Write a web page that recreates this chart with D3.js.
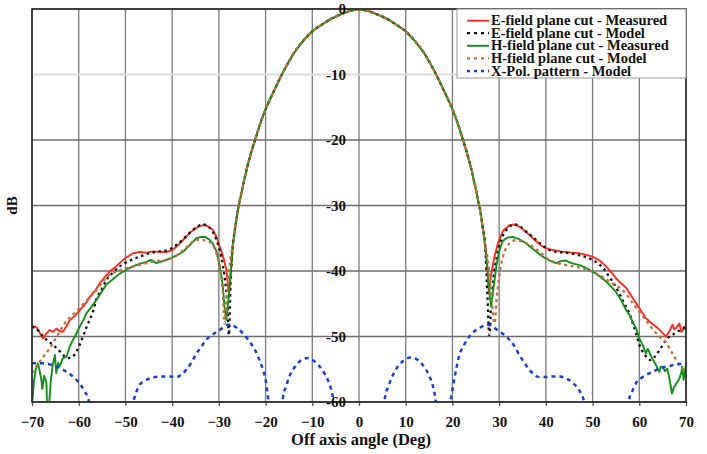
<!DOCTYPE html>
<html>
<head>
<meta charset="utf-8">
<script src="https://cdn.jsdelivr.net/npm/d3@7/dist/d3.min.js"></script>
<style>
  html, body { margin: 0; padding: 0; background: #fff; }
  svg { display: block; }
  text { font-family: "Liberation Serif", "Times New Roman", serif; font-weight: bold; fill: #111; }
</style>
</head>
<body>
<svg id="chart" width="707" height="454"></svg>
<script>
// ---------------- DATA ----------------
const xTicks = [-70, -60, -50, -40, -30, -20, -10, 0, 10, 20, 30, 40, 50, 60, 70];
const yTicks = [0, -10, -20, -30, -40, -50, -60];
const xTitle = "Off axis angle (Deg)";
const yTitle = "dB";
const seriesNames = [
  "E-field plane cut - Measured",
  "E-field plane cut - Model",
  "H-field plane cut - Measured",
  "H-field plane cut - Model",
  "X-Pol. pattern - Model"
];

// main beam shared by the co-pol curves [angle, dB]
const mainBeam = [
  [-27, -36], [-26.5, -33.4], [-26, -31], [-25, -27.5], [-24, -24.3], [-23, -21.7], [-22, -19.4],
  [-21, -17.2], [-20, -15.3], [-19, -13.7], [-18, -12.2], [-17, -10.7], [-16, -9.3], [-15, -8],
  [-14, -6.8], [-12, -4.9], [-10, -3.4], [-8, -2.4], [-6, -1.5], [-4, -0.85], [-2, -0.3], [0, 0],
  [2, -0.3], [4, -0.85], [6, -1.5], [8, -2.4], [10, -3.4], [12, -4.9], [14, -6.8], [15, -8],
  [16, -9.3], [17, -10.7], [18, -12.2], [19, -13.7], [20, -15.3], [21, -17.2], [22, -19.4],
  [23, -21.7], [24, -24.3], [25, -27.5], [26, -31], [26.5, -33.4], [27, -36]
];

const eMeasLeft = [
  [-70, -48.4], [-69, -48.6], [-68.3, -49.5], [-67.6, -50.3], [-67, -49.6], [-66.2, -49], [-65.5, -49.3],
  [-64.8, -48.8], [-64, -49.2], [-63.4, -49.3], [-62.6, -48.4], [-61.9, -47.5], [-61, -47], [-59.8, -46],
  [-58.8, -45.2], [-58, -44.4], [-57.6, -43.9], [-56.5, -43], [-55.5, -41.9], [-54.5, -41], [-53.4, -40.1],
  [-52, -39.3], [-50.5, -38.3], [-49.5, -37.8], [-48.4, -37.3], [-47, -37.1], [-45.5, -37.2], [-44, -37],
  [-42.5, -37.1], [-41.2, -37.1], [-40, -36.8], [-39.1, -36.3], [-38, -35.5], [-37, -34.8], [-36.3, -34.2],
  [-35, -33.5], [-34, -33.1], [-33.4, -33], [-32.5, -33.1], [-31.3, -33.7], [-30.5, -34.8], [-29.8, -36.3],
  [-29, -38], [-28.4, -39.8], [-28, -42.5], [-27.8, -43.4], [-27.4, -40]
];
const eMeasRight = [
  [27.5, -40], [27.8, -43.4], [28.3, -40.5], [29, -37.8], [29.8, -35.6], [30.8, -33.9], [32.2, -33],
  [33.3, -32.9], [34.5, -33.3], [35.5, -33.9], [36.5, -34.5], [38, -35.5], [39, -36.1], [40, -36.5],
  [41.5, -36.8], [43, -37], [44.3, -37.1], [45.5, -37.2], [47.2, -37.3], [48.5, -37.5], [50, -37.8],
  [51.5, -38.4], [52.9, -39.3], [54, -40.2], [55, -41.1], [56, -41.8], [57.2, -42.6], [58.3, -43.8],
  [59.3, -44.9], [60.3, -46], [61.4, -47.2], [62.5, -47.9], [63.6, -48.5], [64.5, -49.1], [65.7, -50],
  [66.4, -49.3], [67.1, -48.2], [67.5, -48.9], [67.9, -48.7], [68.3, -48.3], [68.6, -48], [69, -49.3],
  [69.3, -49.1], [69.6, -48.5], [70, -48.9]
];

const eModelLeft = [
  [-70, -48.5], [-68.5, -49.2], [-67.6, -50], [-66, -51], [-64.4, -52], [-63.2, -52.9], [-62.3, -53.3],
  [-61.2, -53], [-60.5, -52.3], [-59.8, -51.3], [-59, -49.8], [-58, -48], [-57, -46.3], [-56.2, -44.3],
  [-55, -42.7], [-54.1, -41.4], [-52.6, -40.2], [-51.2, -39.3], [-49, -38.4], [-46.9, -37.8], [-44.8, -37.3],
  [-42.7, -37], [-41, -36.8], [-39.8, -36.4], [-38.5, -35.7], [-37, -34.7], [-35.5, -33.7], [-34.3, -33.1],
  [-33.4, -32.9], [-32.3, -33.2], [-31.3, -34], [-30.4, -35.5], [-29.5, -37.8], [-28.8, -40.8],
  [-28.3, -44], [-28.1, -46], [-27.85, -49.8], [-27.5, -42]
];
const eModelRight = [
  [27.5, -44], [27.9, -49.8], [28.3, -45], [28.8, -41], [29.5, -37.8], [30.4, -35.3], [31.5, -33.8],
  [32.5, -33.1], [33.4, -32.9], [34.5, -33.2], [35.5, -33.8], [37.2, -34.8], [39, -35.9], [40.7, -36.8],
  [42.5, -37.1], [44.3, -37.2], [46, -37.4], [47.2, -37.6], [49, -38], [50.7, -38.6], [52.3, -39.6],
  [53.6, -40.9], [54.7, -42.1], [55.7, -43.4], [56.8, -45], [57.9, -46.5], [58.6, -48], [59.3, -49.5],
  [60, -51.2], [61.4, -53], [62.5, -53.6], [63.4, -53], [64.3, -52.1], [65.2, -51.1], [66, -50.3],
  [67, -49.8], [67.9, -49.4], [69, -48.9], [70, -48.6]
];

const hMeasLeft = [
  [-70, -60.5], [-69.6, -57], [-69.2, -55], [-68.7, -54.1], [-68.3, -55.5], [-68, -56.6], [-67.8, -58],
  [-67.4, -56], [-66.9, -57.1], [-66.8, -60.5], [-66.4, -61], [-66, -57], [-65.6, -54.5], [-65.1, -52.8],
  [-64.8, -55.6], [-64.4, -54], [-64.1, -54.6], [-63.4, -53.3], [-62.6, -53.1], [-61.9, -51.5],
  [-61.3, -50.6], [-60.8, -50], [-59.8, -48.5], [-59, -47.5], [-58.4, -46.5], [-57.2, -45.4],
  [-56.2, -44.4], [-55, -43.1], [-54.1, -42.1], [-52.6, -41.2], [-51.2, -40.4], [-49.8, -39.8],
  [-48.4, -39.3], [-47, -38.9], [-45.5, -38.6], [-44.5, -38.3], [-43.4, -38.8], [-42, -38.5],
  [-40.5, -38.1], [-39, -37.6], [-37.7, -37.1], [-36.2, -36], [-34.8, -35], [-33.8, -34.8], [-33, -34.8],
  [-32, -35.2], [-31.3, -35.8], [-30.5, -37], [-29.8, -39.3], [-29.2, -42], [-28.8, -45.4],
  [-28.4, -47.5], [-27.9, -44], [-27.4, -39.5]
];
const hMeasRight = [
  [27.5, -39.5], [28, -44], [28.3, -45.4], [28.8, -42.5], [29.5, -38.8], [30.2, -36.5], [30.8, -35.4],
  [31.8, -34.9], [32.9, -34.8], [34.2, -35.1], [35.8, -35.8], [37.5, -36.8], [39.3, -37.8], [40.8, -38.4],
  [42.2, -38.8], [43.2, -38.5], [44.3, -38.4], [45.5, -38.8], [47.2, -39.1], [48.5, -39.5], [50, -40.1],
  [51.5, -40.8], [52.9, -41.6], [54, -42.4], [55, -43.2], [56, -44.3], [57.2, -46], [58, -46.8],
  [58.6, -47.8], [59.3, -48.7], [60, -50.3], [60.8, -51.4], [61.4, -52.6], [61.8, -51.9], [62.1, -52.3],
  [62.8, -53.4], [63.6, -54.4], [64.3, -55.4], [64.6, -54.6], [65, -54.6], [65.5, -55.3], [66, -54.9],
  [66.5, -56.6], [67, -58.7], [67.4, -57.8], [67.9, -57.2], [68.3, -56.8], [68.6, -56.4], [69, -55.5],
  [69.2, -54.6], [69.5, -56.6], [69.8, -55.2], [70, -54.4]
];

const hModelLeft = [
  [-70, -55.6], [-68.8, -54.3], [-67.6, -53.1], [-66.2, -51.8], [-65.1, -50.5], [-64.1, -49.3],
  [-63, -48], [-61.5, -46.8], [-60, -45.8], [-58.5, -44.6], [-57.2, -43.7], [-56.2, -42.9], [-54.8, -41.6],
  [-53.4, -40.6], [-51.6, -40], [-49.8, -39.6], [-47.6, -39.2], [-45.5, -38.8], [-43.4, -38.5],
  [-41.2, -38.3], [-39.8, -37.9], [-38.4, -37.3], [-37, -36.4], [-35.5, -35.5], [-34.3, -35.2],
  [-33.4, -35.3], [-32.5, -35.4], [-31.6, -35.8], [-30.7, -37], [-29.8, -39.3], [-29.1, -43.9],
  [-28.8, -48], [-28.3, -44], [-27.6, -38.5]
];
const hModelRight = [
  [27.6, -38.5], [28.3, -43.5], [29, -48], [29.5, -44], [30.3, -39.5], [31.2, -37], [32.3, -35.7],
  [33.6, -35.3], [35, -35.5], [36, -35.8], [37.2, -36.3], [39, -37.3], [40.7, -38.3], [42.5, -38.8],
  [44.3, -39.1], [46, -39.3], [47.9, -39.6], [49.6, -40], [51.4, -40.6], [53, -41.3], [54.3, -41.9],
  [55.4, -42.4], [56.4, -42.9], [57.5, -43.8], [58.6, -44.9], [60, -46.2], [61.4, -47.5], [62.8, -48.8],
  [64.3, -50], [65.7, -50.9], [67.1, -52.6], [68.8, -54.6], [70, -55.3]
];

// cross-pol; null separates the lobes that leave the -60 dB floor
const xPolModel = [
  [-70, -54.1], [-67.6, -54.1], [-64.8, -54.6], [-62.6, -55.4], [-60.5, -56.6], [-58.7, -58.4],
  [-58, -59.4], [-57.5, -60.8], null,
  [-48.8, -60.8], [-48.4, -60], [-47, -57.4], [-46, -56.8], [-44.8, -56.4], [-42, -56.1], [-40.5, -56.1],
  [-39.1, -56.2], [-38, -55.8], [-37, -55.1], [-35.8, -53.9], [-34.8, -52.6], [-33.7, -51.5],
  [-32.7, -50.5], [-31.5, -49.8], [-30.5, -49.3], [-29.4, -48.8], [-28.1, -48.2], [-26.8, -48.4],
  [-25.6, -49], [-24.5, -49.8], [-23.4, -50.8], [-22.3, -52], [-21.3, -53.6], [-20.6, -55], [-20, -56.6],
  [-19.5, -59.2], [-19.2, -60.8], null,
  [-16.5, -60.8], [-16.3, -59.4], [-15.6, -57.6], [-14.9, -56.1], [-13.8, -54.7], [-12.7, -53.8],
  [-11, -53.3], [-9.7, -53.7], [-8.4, -54.6], [-7.5, -55.5], [-6.7, -56.6], [-6, -58], [-5.6, -59.2],
  [-5.3, -60.8], null,
  [5.3, -60.8], [5.6, -59.2], [6.3, -57.6], [7, -56.3], [8.2, -54.7], [9.5, -53.7], [11, -53.2],
  [12.6, -53.6], [13.8, -54.5], [14.9, -55.8], [15.8, -57.5], [16.3, -59.2], [16.6, -60.8], null,
  [19.4, -60.8], [19.8, -59], [20.4, -56.5], [21.5, -52.8], [22.5, -51.3], [23.6, -50], [24.7, -49.2],
  [25.8, -48.7], [27.5, -48.2], [28.8, -48.6], [30.1, -49.3], [31.2, -49.8], [32.2, -50.5], [33.3, -51.5],
  [34.3, -52.8], [35.4, -54], [36.5, -55.1], [37.5, -55.8], [38.6, -56.2], [40, -56.2], [41.5, -56.1],
  [43, -56.1], [44.3, -56.4], [45.5, -56.9], [46.5, -57.6], [47.3, -58.4], [47.9, -59.2], [48.4, -60.8], null,
  [57.6, -60.8], [57.9, -59.4], [58.6, -58.2], [59.3, -57.1], [60.3, -56.4], [61.4, -55.9], [62.8, -55.4],
  [64.3, -54.9], [65.7, -54.6], [67.1, -54.4], [68.5, -54.2], [70, -54.1]
];

// ---------------- CHART ----------------
const svg = d3.select("#chart");
const W = 707, H = 454;
const plot = { left: 32, right: 686, top: 9, bottom: 402 };

const x = d3.scaleLinear().domain([-70, 70]).range([plot.left, plot.right]);
const y = d3.scaleLinear().domain([-60, 0]).range([plot.bottom, plot.top]);

svg.append("rect").attr("width", W).attr("height", H).attr("fill", "#fff");

svg.append("defs").append("clipPath").attr("id", "clip")
  .append("rect")
  .attr("x", plot.left).attr("y", plot.top)
  .attr("width", plot.right - plot.left).attr("height", plot.bottom - plot.top);

// grid
const grid = svg.append("g");
grid.selectAll("line.v").data(xTicks).join("line")
  .attr("x1", d => x(d)).attr("x2", d => x(d))
  .attr("y1", plot.top).attr("y2", plot.bottom)
  .attr("stroke", "#7a7a7a").attr("stroke-width", 1.3);
grid.selectAll("line.h").data(yTicks).join("line")
  .attr("x1", plot.left).attr("x2", plot.right)
  .attr("y1", d => y(d)).attr("y2", d => y(d))
  .attr("stroke", d => d === -10 ? "#dcdcdc" : "#6e6e6e")
  .attr("stroke-width", d => d === -10 ? 2 : 1.3);

// x-axis with ticks below
const xAxis = d3.axisBottom(x).tickValues(xTicks).tickSize(4).tickPadding(10).tickFormat(d3.format("d"));
const gx = svg.append("g").attr("transform", `translate(0,${plot.bottom})`).call(xAxis);
gx.select(".domain").remove();
gx.selectAll(".tick line").attr("stroke", "#555").attr("stroke-width", 1.3);
gx.selectAll(".tick text")
  .attr("font-family", "'Liberation Serif', serif").attr("font-weight", "bold")
  .attr("font-size", 15).attr("fill", "#111");

// curves
const lineLin = d3.line().defined(d => d !== null).x(d => x(d[0])).y(d => y(d[1]));
const lineSmooth = d3.line().defined(d => d !== null).x(d => x(d[0])).y(d => y(d[1])).curve(d3.curveMonotoneX);

const curves = svg.append("g").attr("clip-path", "url(#clip)");
const styles = [
  { data: eMeasLeft.concat(mainBeam, eMeasRight), color: "#ff2a1f", width: 1.9, dash: null, gen: lineLin },
  { data: eModelLeft.concat(mainBeam, eModelRight), color: "#111111", width: 2.3, dash: "2.5,3.5", gen: lineSmooth },
  { data: hMeasLeft.concat(mainBeam, hMeasRight), color: "#13901a", width: 1.9, dash: null, gen: lineLin },
  { data: hModelLeft.concat(mainBeam, hModelRight), color: "#c0703c", width: 2.3, dash: "3,3.5", gen: lineSmooth },
  { data: xPolModel, color: "#1b3fd0", width: 2.5, dash: "4,4", gen: lineSmooth }
];
styles.forEach(s => {
  curves.append("path")
    .attr("d", s.gen(s.data))
    .attr("fill", "none")
    .attr("stroke", s.color)
    .attr("stroke-width", s.width)
    .attr("stroke-dasharray", s.dash)
    .attr("stroke-linejoin", "round");
});

// frame
svg.append("rect")
  .attr("x", plot.left).attr("y", plot.top)
  .attr("width", plot.right - plot.left).attr("height", plot.bottom - plot.top)
  .attr("fill", "none").attr("stroke", "#2a2a2a").attr("stroke-width", 1.6);

// y tick labels drawn inside plot next to x=0 line
svg.append("g").selectAll("text").data(yTicks).join("text")
  .attr("x", x(0) - 13).attr("y", d => y(d) + 5)
  .attr("text-anchor", "end")
  .attr("font-size", 15)
  .text(d => d);

// axis titles
svg.append("text").attr("x", (plot.left + plot.right) / 2 + 2).attr("y", 445)
  .attr("text-anchor", "middle").attr("font-size", 16.5).text(xTitle);
svg.append("text").attr("transform", `translate(17,${(plot.top + plot.bottom) / 2}) rotate(-90)`)
  .attr("text-anchor", "middle").attr("font-size", 15).text(yTitle);

// legend
const leg = svg.append("g");
leg.append("rect").attr("x", 457).attr("y", plot.top).attr("width", plot.right - 457).attr("height", 69)
  .attr("fill", "#fff").attr("stroke", "#9a9a9a").attr("stroke-width", 1);
const legY = [20.7, 33.2, 45.8, 58.4, 71];
seriesNames.forEach((name, i) => {
  const s = styles[i];
  leg.append("line").attr("x1", 467).attr("x2", 489).attr("y1", legY[i]).attr("y2", legY[i])
    .attr("stroke", s.color).attr("stroke-width", s.width)
    .attr("stroke-dasharray", s.dash ? "3,4" : null);
  leg.append("text").attr("x", 491).attr("y", legY[i] + 4.5)
    .attr("font-size", 14.5).text(name);
});
</script>
</body>
</html>
